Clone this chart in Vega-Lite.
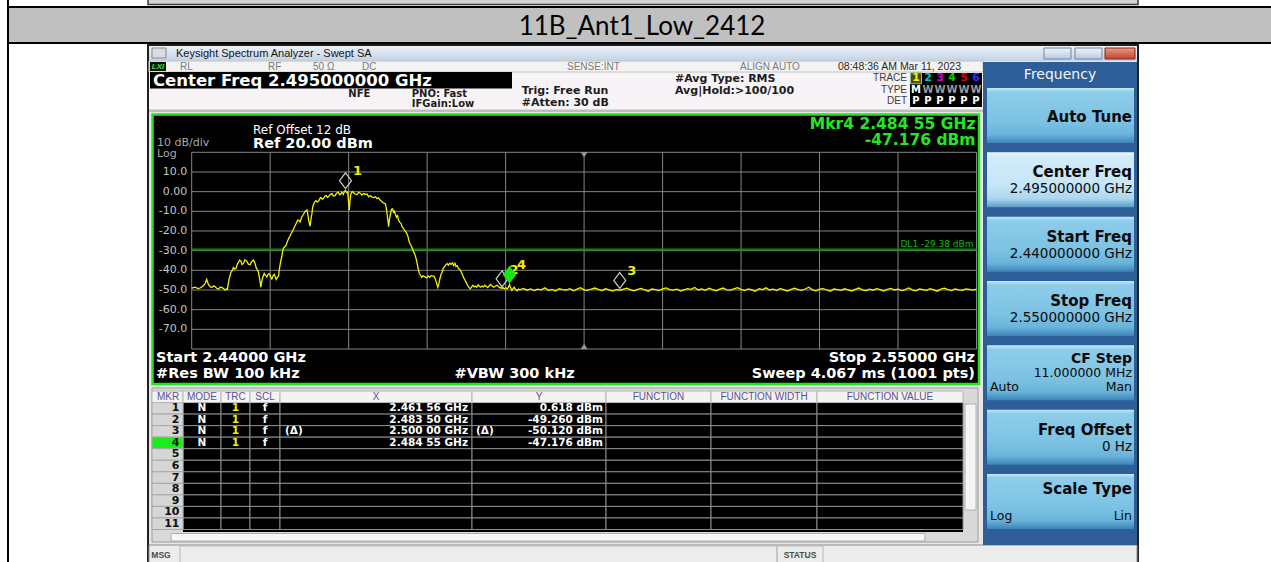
{
"$schema":"https://vega.github.io/schema/vega-lite/v6.json",
"width":1271,"height":562,"padding":0,"autosize":"none",
"background":"#ffffff",
"config":{"view":{"stroke":null},"axis":{"disable":true},"legend":{"disable":true}},
"datasets":{
"markers":[
{"mkr":"1","f":2.46156,"p":0.618,"mode":"N","trc":"1","scl":"f","x":"2.461 56 GHz","y":"0.618 dBm"},
{"mkr":"2","f":2.4835,"p":-49.26,"mode":"N","trc":"1","scl":"f","x":"2.483 50 GHz","y":"-49.260 dBm"},
{"mkr":"3","f":2.5,"p":-50.12,"mode":"N","trc":"1","scl":"f","xd":"(Δ)","x":"2.500 00 GHz","yd":"(Δ)","y":"-50.120 dBm"},
{"mkr":"4","f":2.48455,"p":-47.176,"mode":"N","trc":"1","scl":"f","x":"2.484 55 GHz","y":"-47.176 dBm"},
{"mkr":"5"},{"mkr":"6"},{"mkr":"7"},{"mkr":"8"},{"mkr":"9"},{"mkr":"10"},{"mkr":"11"}],
"columns":[
{"key":"mkr","label":"MKR","idx":0,"next":1},
{"key":"mode","label":"MODE","idx":1,"next":2},
{"key":"trc","label":"TRC","idx":2,"next":3},
{"key":"scl","label":"SCL","idx":3,"next":4},
{"key":"x","label":"X","idx":4,"next":5},
{"key":"y","label":"Y","idx":5,"next":6},
{"key":"fn","label":"FUNCTION","idx":6,"next":7},
{"key":"fw","label":"FUNCTION WIDTH","idx":7,"next":8},
{"key":"fv","label":"FUNCTION VALUE","idx":8,"next":9}],
"softkeys":[
{"key":"Auto Tune"},
{"key":"Center Freq","value":"2.495000000 GHz"},
{"key":"Start Freq","value":"2.440000000 GHz"},
{"key":"Stop Freq","value":"2.550000000 GHz"},
{"key":"CF Step","value":"11.000000 MHz","left":"Auto","right":"Man"},
{"key":"Freq Offset","value":"0 Hz"},
{"key":"Scale Type","left":"Log","right":"Lin"}],
"traces":[
{"trace":"1","type":"M","det":"P"},{"trace":"2","type":"W","det":"P"},{"trace":"3","type":"W","det":"P"},
{"trace":"4","type":"W","det":"P"},{"trace":"5","type":"W","det":"P"},{"trace":"6","type":"W","det":"P"}],
"trace":[
{"f":2.44,"p":-49.0},{"f":2.44047,"p":-48.6},{"f":2.4409,"p":-49.3},{"f":2.44117,"p":-49.0},{"f":2.4415,"p":-48.2},{"f":2.44187,"p":-46.8},{"f":2.4421,"p":-44.6},{"f":2.44234,"p":-47.2},{"f":2.4426,"p":-48.4},{"f":2.44281,"p":-48.6},{"f":2.4431,"p":-47.9},{"f":2.44328,"p":-48.3},{"f":2.4435,"p":-49.1},{"f":2.44374,"p":-49.6},{"f":2.444,"p":-48.6},{"f":2.4442,"p":-48.7},{"f":2.4445,"p":-49.4},{"f":2.44468,"p":-50.1},{"f":2.4449,"p":-49.4},{"f":2.445,"p":-49.6},
{"f":2.44524,"p":-44.5},{"f":2.44548,"p":-41.2},{"f":2.4457,"p":-40.0},{"f":2.44585,"p":-38.6},{"f":2.44605,"p":-39.4},{"f":2.44622,"p":-38.9},{"f":2.4464,"p":-36.8},{"f":2.44655,"p":-36.0},{"f":2.4467,"p":-34.8},{"f":2.44688,"p":-35.2},{"f":2.44705,"p":-37.0},{"f":2.44725,"p":-36.5},{"f":2.44745,"p":-34.6},{"f":2.44772,"p":-35.3},{"f":2.44795,"p":-36.9},{"f":2.44819,"p":-37.2},{"f":2.4484,"p":-35.6},{"f":2.44866,"p":-34.8},{"f":2.44885,"p":-36.2},{"f":2.44903,"p":-38.6},{"f":2.4492,"p":-39.8},{"f":2.44936,"p":-41.0},{"f":2.44955,"p":-45.0},{"f":2.44969,"p":-48.6},{"f":2.4498,"p":-46.0},{"f":2.44992,"p":-44.0},
{"f":2.45016,"p":-41.6},{"f":2.45035,"p":-42.6},{"f":2.45053,"p":-43.4},{"f":2.4507,"p":-42.0},{"f":2.4509,"p":-41.8},{"f":2.4511,"p":-43.5},{"f":2.45123,"p":-44.4},{"f":2.4514,"p":-42.8},{"f":2.45156,"p":-42.0},{"f":2.4517,"p":-43.2},{"f":2.45184,"p":-44.6},{"f":2.452,"p":-43.6},{"f":2.45217,"p":-43.0},{"f":2.45228,"p":-39.5},{"f":2.4524,"p":-37.0},{"f":2.45252,"p":-34.5},{"f":2.45264,"p":-33.0},{"f":2.45275,"p":-30.0},{"f":2.45287,"p":-28.7},{"f":2.45305,"p":-28.0},{"f":2.45324,"p":-27.2},{"f":2.4534,"p":-25.5},{"f":2.45357,"p":-24.0},{"f":2.45375,"p":-22.8},{"f":2.4539,"p":-21.5},{"f":2.45408,"p":-20.4},{"f":2.45427,"p":-19.0},{"f":2.45445,"p":-17.6},{"f":2.4546,"p":-16.5},{"f":2.45475,"p":-15.3},{"f":2.45488,"p":-14.4},{"f":2.45505,"p":-14.8},{"f":2.4552,"p":-15.4},{"f":2.4554,"p":-13.0},{"f":2.45558,"p":-12.0},{"f":2.45575,"p":-11.0},{"f":2.4559,"p":-10.0},{"f":2.45605,"p":-9.6},{"f":2.45615,"p":-9.3},{"f":2.45628,"p":-11.5},{"f":2.45638,"p":-14.2},{"f":2.4565,"p":-16.2},{"f":2.4566,"p":-17.6},{"f":2.45672,"p":-14.0},{"f":2.45685,"p":-11.2},{"f":2.45695,"p":-8.0},{"f":2.45708,"p":-6.4},{"f":2.4572,"p":-5.6},{"f":2.4574,"p":-4.6},{"f":2.4576,"p":-5.2},{"f":2.4578,"p":-4.8},{"f":2.45795,"p":-3.6},{"f":2.4581,"p":-3.0},{"f":2.4583,"p":-3.8},{"f":2.4585,"p":-3.4},{"f":2.45868,"p":-2.2},{"f":2.45886,"p":-2.0},{"f":2.45905,"p":-3.0},{"f":2.4592,"p":-2.4},{"f":2.45945,"p":-1.4},{"f":2.45966,"p":-1.0},{"f":2.45985,"p":-2.2},{"f":2.4601,"p":-2.0},{"f":2.4603,"p":-0.8},{"f":2.46055,"p":-0.4},{"f":2.46075,"p":-1.6},{"f":2.4609,"p":-1.2},{"f":2.46106,"p":-0.3},{"f":2.46125,"p":-1.4},{"f":2.4614,"p":0.0},{"f":2.46156,"p":0.6},{"f":2.46172,"p":-0.5},{"f":2.46186,"p":-0.2},{"f":2.46197,"p":-4.5},{"f":2.46209,"p":-9.5},{"f":2.4622,"p":-4.0},{"f":2.46232,"p":-1.0},{"f":2.4625,"p":0.1},{"f":2.4627,"p":-0.6},{"f":2.46292,"p":-1.2},{"f":2.46317,"p":-1.6},{"f":2.4634,"p":-0.4},{"f":2.46363,"p":-0.8},{"f":2.46385,"p":-1.8},{"f":2.4641,"p":-1.0},{"f":2.46435,"p":-1.4},{"f":2.46457,"p":-1.2},{"f":2.4648,"p":-2.6},{"f":2.46504,"p":-2.0},{"f":2.46525,"p":-2.8},{"f":2.4655,"p":-3.0},{"f":2.46575,"p":-2.6},{"f":2.46598,"p":-3.6},{"f":2.4662,"p":-3.2},{"f":2.46644,"p":-4.4},{"f":2.46665,"p":-5.0},{"f":2.4668,"p":-5.5},{"f":2.467,"p":-6.0},{"f":2.46715,"p":-6.2},{"f":2.4673,"p":-9.0},{"f":2.46745,"p":-13.0},{"f":2.4676,"p":-17.8},{"f":2.46772,"p":-14.0},{"f":2.46785,"p":-11.5},{"f":2.468,"p":-9.0},{"f":2.46815,"p":-8.8},{"f":2.4683,"p":-10.5},{"f":2.46842,"p":-10.0},{"f":2.46856,"p":-11.6},{"f":2.4687,"p":-13.0},{"f":2.46885,"p":-12.2},{"f":2.469,"p":-14.6},{"f":2.46915,"p":-15.5},{"f":2.46935,"p":-16.2},{"f":2.4695,"p":-18.0},{"f":2.4697,"p":-18.8},{"f":2.4699,"p":-20.0},{"f":2.4701,"p":-21.0},{"f":2.4703,"p":-22.6},{"f":2.47045,"p":-25.0},{"f":2.4706,"p":-26.5},{"f":2.47075,"p":-27.4},{"f":2.47095,"p":-29.2},{"f":2.4711,"p":-30.5},{"f":2.47128,"p":-32.0},{"f":2.47145,"p":-34.0},{"f":2.4716,"p":-36.5},{"f":2.47173,"p":-39.0},{"f":2.4719,"p":-41.5},{"f":2.47206,"p":-42.5},{"f":2.47225,"p":-43.6},{"f":2.47243,"p":-42.8},{"f":2.47265,"p":-43.2},{"f":2.4729,"p":-43.9},{"f":2.47315,"p":-42.9},{"f":2.47337,"p":-43.6},{"f":2.4736,"p":-42.6},{"f":2.47384,"p":-43.0},{"f":2.474,"p":-43.2},{"f":2.47416,"p":-44.6},{"f":2.47432,"p":-46.5},{"f":2.4745,"p":-48.6},{"f":2.47465,"p":-46.8},{"f":2.47478,"p":-44.4},{"f":2.47495,"p":-42.0},{"f":2.4751,"p":-41.0},{"f":2.47526,"p":-39.0},{"f":2.47543,"p":-38.2},{"f":2.4756,"p":-37.2},{"f":2.4758,"p":-36.6},{"f":2.47598,"p":-37.4},{"f":2.47617,"p":-36.4},{"f":2.47635,"p":-37.0},{"f":2.47655,"p":-36.2},{"f":2.47672,"p":-37.6},{"f":2.4769,"p":-36.4},{"f":2.47705,"p":-38.0},{"f":2.47722,"p":-37.6},{"f":2.4774,"p":-39.2},{"f":2.4776,"p":-39.6},{"f":2.4778,"p":-41.0},{"f":2.47795,"p":-42.2},{"f":2.47815,"p":-44.0},{"f":2.47837,"p":-45.4},{"f":2.47855,"p":-46.8},{"f":2.4787,"p":-47.8},{"f":2.47888,"p":-48.8},{"f":2.47905,"p":-49.4},{"f":2.47922,"p":-48.6},{"f":2.4794,"p":-47.6},{"f":2.47958,"p":-48.4},{"f":2.47975,"p":-48.0},{"f":2.47995,"p":-48.6},{"f":2.48015,"p":-47.4},{"f":2.48035,"p":-48.2},{"f":2.4805,"p":-48.6},{"f":2.4807,"p":-48.0},{"f":2.4809,"p":-48.4},{"f":2.4811,"p":-47.6},{"f":2.4813,"p":-48.2},{"f":2.4815,"p":-48.8},{"f":2.4817,"p":-47.8},{"f":2.4819,"p":-47.2},{"f":2.4821,"p":-48.0},{"f":2.48235,"p":-48.6},{"f":2.48255,"p":-48.1},{"f":2.48275,"p":-47.6},{"f":2.483,"p":-48.2},{"f":2.4832,"p":-48.9},{"f":2.48335,"p":-48.6},{"f":2.4835,"p":-49.26},{"f":2.48365,"p":-48.8},{"f":2.48385,"p":-49.4},{"f":2.48405,"p":-48.9},{"f":2.4842,"p":-49.5},{"f":2.4844,"p":-48.6},{"f":2.48455,"p":-47.18},{"f":2.4847,"p":-48.9},{"f":2.48488,"p":-50.2},{"f":2.48505,"p":-49.3},{"f":2.4852,"p":-48.6},{"f":2.4854,"p":-49.8},{"f":2.4856,"p":-50.4},{"f":2.4858,"p":-49.5},{"f":2.486,"p":-49.9},
{"f":2.4865,"p":-49.2},{"f":2.487,"p":-50.1},{"f":2.4875,"p":-49.5},{"f":2.488,"p":-50.3},{"f":2.4885,"p":-49.6},{"f":2.489,"p":-49.9},{"f":2.4895,"p":-48.9},{"f":2.49,"p":-50.2},{"f":2.4905,"p":-49.7},{"f":2.491,"p":-50.5},{"f":2.4915,"p":-49.4},{"f":2.492,"p":-49.8},{"f":2.4925,"p":-50.0},{"f":2.493,"p":-49.3},{"f":2.4935,"p":-50.4},{"f":2.494,"p":-49.6},{"f":2.4945,"p":-48.8},{"f":2.495,"p":-49.9},{"f":2.4955,"p":-50.2},{"f":2.496,"p":-49.5},{"f":2.4965,"p":-49.0},{"f":2.497,"p":-49.7},{"f":2.4975,"p":-50.3},{"f":2.498,"p":-49.4},{"f":2.4985,"p":-49.9},{"f":2.499,"p":-50.6},{"f":2.4995,"p":-49.8},{"f":2.5,"p":-50.12},{"f":2.5005,"p":-49.6},{"f":2.501,"p":-49.1},{"f":2.5015,"p":-49.9},{"f":2.502,"p":-50.4},{"f":2.5025,"p":-49.7},{"f":2.503,"p":-49.2},{"f":2.5035,"p":-50.0},{"f":2.504,"p":-50.6},{"f":2.5045,"p":-49.5},{"f":2.505,"p":-49.8},{"f":2.5055,"p":-50.3},{"f":2.506,"p":-49.4},{"f":2.5065,"p":-48.9},{"f":2.507,"p":-49.8},{"f":2.5075,"p":-50.1},{"f":2.508,"p":-49.6},{"f":2.5085,"p":-50.5},{"f":2.509,"p":-49.9},{"f":2.5095,"p":-49.3},{"f":2.51,"p":-49.7},{"f":2.5105,"p":-48.7},{"f":2.511,"p":-50.0},{"f":2.5115,"p":-49.5},{"f":2.512,"p":-50.2},{"f":2.5125,"p":-49.1},{"f":2.513,"p":-49.8},{"f":2.5135,"p":-50.4},{"f":2.514,"p":-49.6},{"f":2.5145,"p":-49.0},{"f":2.515,"p":-49.9},{"f":2.5155,"p":-50.1},{"f":2.516,"p":-49.4},{"f":2.5165,"p":-48.8},{"f":2.517,"p":-49.7},{"f":2.5175,"p":-50.3},{"f":2.518,"p":-49.5},{"f":2.5185,"p":-49.9},{"f":2.519,"p":-50.6},{"f":2.5195,"p":-49.4},{"f":2.52,"p":-49.8},{"f":2.5205,"p":-48.9},{"f":2.521,"p":-50.0},{"f":2.5215,"p":-49.6},{"f":2.522,"p":-50.3},{"f":2.5225,"p":-49.2},{"f":2.523,"p":-49.9},{"f":2.5235,"p":-50.5},{"f":2.524,"p":-49.7},{"f":2.5245,"p":-49.1},{"f":2.525,"p":-49.8},{"f":2.5255,"p":-50.2},{"f":2.526,"p":-49.5},{"f":2.5265,"p":-48.6},{"f":2.527,"p":-49.9},{"f":2.5275,"p":-50.4},{"f":2.528,"p":-49.6},{"f":2.5285,"p":-49.3},{"f":2.529,"p":-50.0},{"f":2.5295,"p":-50.6},{"f":2.53,"p":-49.5},{"f":2.5305,"p":-49.8},{"f":2.531,"p":-50.2},{"f":2.5315,"p":-49.4},{"f":2.532,"p":-49.9},{"f":2.5325,"p":-50.5},{"f":2.533,"p":-49.7},{"f":2.5335,"p":-49.0},{"f":2.534,"p":-49.9},{"f":2.5345,"p":-50.3},{"f":2.535,"p":-49.6},{"f":2.5355,"p":-50.1},{"f":2.536,"p":-49.3},{"f":2.5365,"p":-49.8},{"f":2.537,"p":-50.5},{"f":2.5375,"p":-49.7},{"f":2.538,"p":-49.2},{"f":2.5385,"p":-50.0},{"f":2.539,"p":-49.6},{"f":2.5395,"p":-50.3},{"f":2.54,"p":-49.8},{"f":2.5405,"p":-49.0},{"f":2.541,"p":-49.9},{"f":2.5415,"p":-50.4},{"f":2.542,"p":-49.5},{"f":2.5425,"p":-49.8},{"f":2.543,"p":-50.2},{"f":2.5435,"p":-49.3},{"f":2.544,"p":-49.9},{"f":2.5445,"p":-50.6},{"f":2.545,"p":-49.6},{"f":2.5455,"p":-49.1},{"f":2.546,"p":-49.8},{"f":2.5465,"p":-50.3},{"f":2.547,"p":-49.5},{"f":2.5475,"p":-49.9},{"f":2.548,"p":-50.2},{"f":2.5485,"p":-49.4},{"f":2.549,"p":-49.7},{"f":2.5495,"p":-50.1},{"f":2.55,"p":-49.6}]
},
"resolve":{"scale":{"x":"independent","y":"independent","color":"independent"}},
"layer":[
{"data":{"values":[{"part":"document table"}]},"mark":{"type":"rect","fillOpacity":0,"stroke":"#000000","strokeWidth":2},"encoding":{"x":{"field":"part","type":"nominal","scale":{"type":"band","range":[8,1300],"padding":0}},"y":{"field":"part","type":"nominal","scale":{"type":"band","range":[-10,600],"padding":0}}}},
{"data":{"values":[{"part":"previous capture"}]},"mark":{"type":"rect","fill":"#d4d4d4","stroke":"#3c3c3c","strokeWidth":1.5},"encoding":{"x":{"field":"part","type":"nominal","scale":{"type":"band","range":[148,1138],"padding":0}},"y":{"field":"part","type":"nominal","scale":{"type":"band","range":[-20,4.5],"padding":0}}}},
{"data":{"values":[{"caption":"11B_Ant1_Low_2412"}]},
 "encoding":{"x":{"field":"caption","type":"nominal","scale":{"type":"band","range":[8,1276],"padding":0}},"y":{"field":"caption","type":"nominal","scale":{"type":"band","range":[7,43],"padding":0}}},
 "layer":[
  {"mark":{"type":"rect","fill":"#c0c0c0","stroke":"#000000","strokeWidth":2}},
  {"mark":{"type":"text","font":"Lato","fontSize":26,"color":"#000000","baseline":"alphabetic","dy":10},"encoding":{"text":{"field":"caption"}}}
 ]},
{"data":{"values":[{"part":"window"}]},"mark":{"type":"rect","fill":"#e6e6e6","stroke":"#202020","strokeWidth":2},"encoding":{"x":{"field":"part","type":"nominal","scale":{"type":"band","range":[148,1138],"padding":0}},"y":{"field":"part","type":"nominal","scale":{"type":"band","range":[45,600],"padding":0}}}},
{"data":{"values":[{"part":"title bar"}]},"mark":{"type":"rect","fill":{"gradient":"linear","x1":0,"y1":0,"x2":0,"y2":1,"stops":[{"offset":0,"color":"#ecf1f9"},{"offset":1,"color":"#c3d2e6"}]}},"encoding":{"x":{"field":"part","type":"nominal","scale":{"type":"band","range":[149,1137],"padding":0}},"y":{"field":"part","type":"nominal","scale":{"type":"band","range":[46,61],"padding":0}}}},
{"data":{"values":[{"part":"icon"}]},"mark":{"type":"rect","fill":"#d9dde3","stroke":"#8a8a8a","strokeWidth":1},"encoding":{"x":{"field":"part","type":"nominal","scale":{"type":"band","range":[152,166],"padding":0}},"y":{"field":"part","type":"nominal","scale":{"type":"band","range":[48,58],"padding":0}}}},
{"data":{"values":[{"part":"minimize"}]},"mark":{"type":"rect","fill":{"gradient":"linear","x1":0,"y1":0,"x2":0,"y2":1,"stops":[{"offset":0,"color":"#eef3fa"},{"offset":1,"color":"#b8cae2"}]},"stroke":"#6f84a6","strokeWidth":1},"encoding":{"x":{"field":"part","type":"nominal","scale":{"type":"band","range":[1044,1071],"padding":0}},"y":{"field":"part","type":"nominal","scale":{"type":"band","range":[48,59],"padding":0}}}},
{"data":{"values":[{"part":"restore"}]},"mark":{"type":"rect","fill":{"gradient":"linear","x1":0,"y1":0,"x2":0,"y2":1,"stops":[{"offset":0,"color":"#eef3fa"},{"offset":1,"color":"#b8cae2"}]},"stroke":"#6f84a6","strokeWidth":1},"encoding":{"x":{"field":"part","type":"nominal","scale":{"type":"band","range":[1075,1102],"padding":0}},"y":{"field":"part","type":"nominal","scale":{"type":"band","range":[48,59],"padding":0}}}},
{"data":{"values":[{"part":"close"}]},"mark":{"type":"rect","fill":{"gradient":"linear","x1":0,"y1":0,"x2":0,"y2":1,"stops":[{"offset":0,"color":"#eb9a86"},{"offset":1,"color":"#c0432a"}]},"stroke":"#7a2a1a","strokeWidth":1},"encoding":{"x":{"field":"part","type":"nominal","scale":{"type":"band","range":[1105,1135],"padding":0}},"y":{"field":"part","type":"nominal","scale":{"type":"band","range":[48,59],"padding":0}}}},
{"data":{"values":[{"part":"settings"}]},"mark":{"type":"rect","fill":"#f7f3f7"},"encoding":{"x":{"field":"part","type":"nominal","scale":{"type":"band","range":[149,983],"padding":0}},"y":{"field":"part","type":"nominal","scale":{"type":"band","range":[61,111],"padding":0}}}},
{"data":{"values":[{"part":"status row"}]},"mark":{"type":"rect","fill":"#f3f3f3","stroke":"#c4c4c4","strokeWidth":1},"encoding":{"x":{"field":"part","type":"nominal","scale":{"type":"band","range":[149,983],"padding":0}},"y":{"field":"part","type":"nominal","scale":{"type":"band","range":[61,72],"padding":0}}}},
{"data":{"values":[{"part":"lxi"}]},"mark":{"type":"rect","fill":"#111111"},"encoding":{"x":{"field":"part","type":"nominal","scale":{"type":"band","range":[150,166],"padding":0}},"y":{"field":"part","type":"nominal","scale":{"type":"band","range":[62,71],"padding":0}}}},
{"data":{"values":[{"part":"center freq band"}]},"mark":{"type":"rect","fill":"#000000"},"encoding":{"x":{"field":"part","type":"nominal","scale":{"type":"band","range":[150,512],"padding":0}},"y":{"field":"part","type":"nominal","scale":{"type":"band","range":[72,88.5],"padding":0}}}},
{"data":{"values":[{"part":"separator"}]},"mark":{"type":"rect","fill":"#bdbdbd"},"encoding":{"x":{"field":"part","type":"nominal","scale":{"type":"band","range":[149,983],"padding":0}},"y":{"field":"part","type":"nominal","scale":{"type":"band","range":[109.5,112],"padding":0}}}},
{"data":{"values":[{"part":"trace box"}]},"mark":{"type":"rect","fill":"#000000"},"encoding":{"x":{"field":"part","type":"nominal","scale":{"type":"band","range":[910,982],"padding":0}},"y":{"field":"part","type":"nominal","scale":{"type":"band","range":[73,107],"padding":0}}}},
{"data":{"values":[{"part":"plot frame"}]},"mark":{"type":"rect","fill":"#000000","stroke":"#1ee61e","strokeWidth":2.5},"encoding":{"x":{"field":"part","type":"nominal","scale":{"type":"band","range":[152.5,979],"padding":0}},"y":{"field":"part","type":"nominal","scale":{"type":"band","range":[114.5,384],"padding":0}}}},
{"data":{"values":[{"part":"marker table"}]},"mark":{"type":"rect","fill":"#d9d9d9","stroke":"#9c9c9c","strokeWidth":1},"encoding":{"x":{"field":"part","type":"nominal","scale":{"type":"band","range":[152,978],"padding":0}},"y":{"field":"part","type":"nominal","scale":{"type":"band","range":[388,542],"padding":0}}}},
{"data":{"values":[{"part":"row 12"}]},"mark":{"type":"rect","fill":"#000000"},"encoding":{"x":{"field":"part","type":"nominal","scale":{"type":"band","range":[183,963],"padding":0}},"y":{"field":"part","type":"nominal","scale":{"type":"band","range":[529.5,532],"padding":0}}}},
{"data":{"values":[{"part":"h scroll"}]},"mark":{"type":"rect","fill":"#f7f7f7","stroke":"#aeaeae","strokeWidth":1},"encoding":{"x":{"field":"part","type":"nominal","scale":{"type":"band","range":[171,925],"padding":0}},"y":{"field":"part","type":"nominal","scale":{"type":"band","range":[533.5,541],"padding":0}}}},
{"data":{"values":[{"part":"v scroll"}]},"mark":{"type":"rect","fill":"#f5f5f5","stroke":"#b0b0b0","strokeWidth":1},"encoding":{"x":{"field":"part","type":"nominal","scale":{"type":"band","range":[965,976],"padding":0}},"y":{"field":"part","type":"nominal","scale":{"type":"band","range":[404,510],"padding":0}}}},
{"data":{"values":[{"part":"msg bar"}]},"mark":{"type":"rect","fill":"#ececec","stroke":"#8c8c8c","strokeWidth":1},"encoding":{"x":{"field":"part","type":"nominal","scale":{"type":"band","range":[149,1137],"padding":0}},"y":{"field":"part","type":"nominal","scale":{"type":"band","range":[545,563],"padding":0}}}},
{"data":{"values":[{"part":"msg cell"}]},"mark":{"type":"rect","fillOpacity":0,"stroke":"#b8b8b8","strokeWidth":1},"encoding":{"x":{"field":"part","type":"nominal","scale":{"type":"band","range":[180,777],"padding":0}},"y":{"field":"part","type":"nominal","scale":{"type":"band","range":[546,563],"padding":0}}}},
{"data":{"values":[{"part":"status cell"}]},"mark":{"type":"rect","fillOpacity":0,"stroke":"#b8b8b8","strokeWidth":1},"encoding":{"x":{"field":"part","type":"nominal","scale":{"type":"band","range":[777,823],"padding":0}},"y":{"field":"part","type":"nominal","scale":{"type":"band","range":[546,563],"padding":0}}}},
{"data":{"values":[{"part":"softkey panel"}]},"mark":{"type":"rect","fill":"#2e5e97"},"encoding":{"x":{"field":"part","type":"nominal","scale":{"type":"band","range":[983,1137],"padding":0}},"y":{"field":"part","type":"nominal","scale":{"type":"band","range":[62,545],"padding":0}}}},

{"data":{"values":[{"label":"Keysight Spectrum Analyzer - Swept SA"}]},"mark":{"type":"text","align":"left","baseline":"middle","font":"Liberation Sans","fontSize":11,"color":"#151515"},"encoding":{"text":{"field":"label"},"x":{"field":"label","type":"nominal","scale":{"type":"point","range":[176,176],"padding":0}},"y":{"field":"label","type":"nominal","scale":{"type":"point","range":[53.5,53.5],"padding":0}}}},
{"data":{"values":[{"order":0,"label":"RL"},{"order":1,"label":"RF"},{"order":2,"label":"50 Ω"},{"order":3,"label":"DC"},{"order":4,"label":"SENSE:INT"},{"order":5,"label":"ALIGN AUTO"}]},"mark":{"type":"text","align":"left","baseline":"middle","font":"Liberation Sans","fontSize":10,"color":"#7a7a7a"},"encoding":{"text":{"field":"label"},"x":{"field":"order","type":"quantitative","scale":{"domain":[0,1,2,3,4,5],"range":[180,268,313,362,567,740],"zero":false,"nice":false}},"y":{"field":"order","type":"quantitative","scale":{"domain":[0,5],"range":[66.5,66.5],"zero":false,"nice":false}}}},
{"data":{"values":[{"label":"08:48:36 AM Mar 11, 2023"}]},"mark":{"type":"text","align":"left","baseline":"middle","font":"Liberation Sans","fontSize":10.5,"color":"#262626"},"encoding":{"text":{"field":"label"},"x":{"field":"label","type":"nominal","scale":{"type":"point","range":[838,838],"padding":0}},"y":{"field":"label","type":"nominal","scale":{"type":"point","range":[66.5,66.5],"padding":0}}}},
{"data":{"values":[{"label":"LXI"}]},"mark":{"type":"text","align":"center","baseline":"middle","font":"Liberation Sans","fontWeight":"bold","fontStyle":"italic","fontSize":8,"color":"#2ef02e"},"encoding":{"text":{"field":"label"},"x":{"field":"label","type":"nominal","scale":{"type":"point","range":[158,158],"padding":0}},"y":{"field":"label","type":"nominal","scale":{"type":"point","range":[66.5,66.5],"padding":0}}}},
{"data":{"values":[{"label":"Center Freq 2.495000000 GHz"}]},"mark":{"type":"text","align":"left","baseline":"middle","font":"DejaVu Sans","fontWeight":"bold","fontSize":16.5,"color":"#ffffff"},"encoding":{"text":{"field":"label"},"x":{"field":"label","type":"nominal","scale":{"type":"point","range":[153,153],"padding":0}},"y":{"field":"label","type":"nominal","scale":{"type":"point","range":[81,81],"padding":0}}}},
{"data":{"values":[{"order":0,"label":"NFE"},{"order":1,"label":"PNO: Fast"},{"order":2,"label":"IFGain:Low"}]},"mark":{"type":"text","align":"left","baseline":"middle","font":"DejaVu Sans","fontWeight":"bold","fontSize":10,"color":"#1c1c1c"},"encoding":{"text":{"field":"label"},"x":{"field":"order","type":"quantitative","scale":{"domain":[0,1,2],"range":[348.3,411.7,411.7],"zero":false,"nice":false}},"y":{"field":"order","type":"quantitative","scale":{"domain":[0,1,2],"range":[93.5,93.5,104.3],"zero":false,"nice":false}}}},
{"data":{"values":[{"order":0,"label":"Trig: Free Run"},{"order":1,"label":"#Atten: 30 dB"},{"order":2,"label":"#Avg Type: RMS"},{"order":3,"label":"Avg|Hold:>100/100"}]},"mark":{"type":"text","align":"left","baseline":"middle","font":"DejaVu Sans","fontWeight":"bold","fontSize":11,"color":"#1c1c1c"},"encoding":{"text":{"field":"label"},"x":{"field":"order","type":"quantitative","scale":{"domain":[0,1,2,3],"range":[521.7,521.7,675,675],"zero":false,"nice":false}},"y":{"field":"order","type":"quantitative","scale":{"domain":[0,1,2,3],"range":[91,103,78.5,90.5],"zero":false,"nice":false}}}},

{"data":{"values":[{"row":"TRACE"},{"row":"TYPE"},{"row":"DET"}]},"mark":{"type":"text","align":"right","baseline":"middle","dx":3,"font":"Liberation Sans","fontSize":10,"color":"#3c3c3c"},"encoding":{"text":{"field":"row"},"x":{"datum":"hdr","type":"nominal","scale":{"type":"point","domain":["hdr","1","2","3","4","5","6"],"range":[904,976],"padding":0}},"y":{"field":"row","type":"nominal","scale":{"type":"point","domain":["TRACE","TYPE","DET"],"range":[78.3,100.7],"padding":0}}}},
{"data":{"name":"traces"},"transform":[{"filter":"datum.trace === '1'"}],"mark":{"type":"point","shape":"square","size":120,"filled":true,"opacity":1,"fill":"#4a4a18","stroke":"#8fbf8f","strokeWidth":1},"encoding":{"x":{"field":"trace","type":"nominal","scale":{"type":"point","domain":["hdr","1","2","3","4","5","6"],"range":[904,976],"padding":0}},"y":{"datum":"TRACE","type":"nominal","scale":{"type":"point","domain":["TRACE","TYPE","DET"],"range":[78.3,100.7],"padding":0}}}},
{"data":{"name":"traces"},"mark":{"type":"text","align":"center","baseline":"middle","font":"DejaVu Sans","fontWeight":"bold","fontSize":11},"encoding":{"text":{"field":"trace"},"color":{"field":"trace","type":"nominal","scale":{"domain":["1","2","3","4","5","6"],"range":["#f0f000","#00c8c8","#d000d0","#00d000","#e00000","#3030ff"]},"legend":null},"x":{"field":"trace","type":"nominal","scale":{"type":"point","domain":["hdr","1","2","3","4","5","6"],"range":[904,976],"padding":0}},"y":{"datum":"TRACE","type":"nominal","scale":{"type":"point","domain":["TRACE","TYPE","DET"],"range":[78.3,100.7],"padding":0}}}},
{"data":{"name":"traces"},"mark":{"type":"text","align":"center","baseline":"middle","font":"DejaVu Sans","fontWeight":"bold","fontSize":10},"encoding":{"text":{"field":"type"},"color":{"condition":{"test":"datum.type === 'W'","value":"#9a9a9a"},"value":"#ffffff"},"x":{"field":"trace","type":"nominal","scale":{"type":"point","domain":["hdr","1","2","3","4","5","6"],"range":[904,976],"padding":0}},"y":{"datum":"TYPE","type":"nominal","scale":{"type":"point","domain":["TRACE","TYPE","DET"],"range":[78.3,100.7],"padding":0}}}},
{"data":{"name":"traces"},"mark":{"type":"text","align":"center","baseline":"middle","font":"DejaVu Sans","fontWeight":"bold","fontSize":10,"color":"#ffffff"},"encoding":{"text":{"field":"det"},"x":{"field":"trace","type":"nominal","scale":{"type":"point","domain":["hdr","1","2","3","4","5","6"],"range":[904,976],"padding":0}},"y":{"datum":"DET","type":"nominal","scale":{"type":"point","domain":["TRACE","TYPE","DET"],"range":[78.3,100.7],"padding":0}}}},

{"layer":[
 {"data":{"values":[{"f":2.44},{"f":2.451},{"f":2.462},{"f":2.473},{"f":2.484},{"f":2.495},{"f":2.506},{"f":2.517},{"f":2.528},{"f":2.539},{"f":2.55}]},"mark":{"type":"rule","stroke":"#858585","strokeWidth":1},"encoding":{"x":{"field":"f","type":"quantitative","scale":{"domain":[2.44,2.55],"range":[191.7,976.5],"zero":false,"nice":false}},"y":{"datum":20,"type":"quantitative","scale":{"domain":[-80,20],"range":[349,152.3],"zero":false,"nice":false}},"y2":{"datum":-80}}},
 {"data":{"values":[{"level":20},{"level":10,"label":"10.0"},{"level":0,"label":"0.00"},{"level":-10,"label":"-10.0"},{"level":-20,"label":"-20.0"},{"level":-30,"label":"-30.0"},{"level":-40,"label":"-40.0"},{"level":-50,"label":"-50.0"},{"level":-60,"label":"-60.0"},{"level":-70,"label":"-70.0"},{"level":-80}]},
  "layer":[
   {"mark":{"type":"rule","stroke":"#858585","strokeWidth":1},"encoding":{"y":{"field":"level","type":"quantitative","scale":{"domain":[-80,20],"range":[349,152.3],"zero":false,"nice":false}},"x":{"datum":2.44,"type":"quantitative","scale":{"domain":[2.44,2.55],"range":[191.7,976.5],"zero":false,"nice":false}},"x2":{"datum":2.55}}},
   {"transform":[{"filter":"isValid(datum.label)"}],"mark":{"type":"text","align":"right","baseline":"middle","dx":-4.5,"font":"DejaVu Sans","fontSize":11,"color":"#c4c4c4"},"encoding":{"text":{"field":"label"},"y":{"field":"level","type":"quantitative","scale":{"domain":[-80,20],"range":[349,152.3],"zero":false,"nice":false}},"x":{"datum":2.44,"type":"quantitative","scale":{"domain":[2.44,2.55],"range":[191.7,976.5],"zero":false,"nice":false}}}}
  ]},
 {"data":{"values":[{"line":"DL1","level":-29.38,"label":"DL1 -29.38 dBm"}]},
  "layer":[
   {"mark":{"type":"rule","stroke":"#0a8a0a","strokeWidth":2},"encoding":{"y":{"field":"level","type":"quantitative","scale":{"domain":[-80,20],"range":[349,152.3],"zero":false,"nice":false}},"x":{"datum":2.44,"type":"quantitative","scale":{"domain":[2.44,2.55],"range":[191.7,976.5],"zero":false,"nice":false}},"x2":{"datum":2.55}}},
   {"mark":{"type":"text","align":"right","baseline":"middle","dx":-3,"dy":-5,"font":"DejaVu Sans","fontSize":9,"color":"#12b812"},"encoding":{"text":{"field":"label"},"y":{"field":"level","type":"quantitative","scale":{"domain":[-80,20],"range":[349,152.3],"zero":false,"nice":false}},"x":{"datum":2.55,"type":"quantitative","scale":{"domain":[2.44,2.55],"range":[191.7,976.5],"zero":false,"nice":false}}}}
  ]},
 {"data":{"name":"trace"},"mark":{"type":"line","stroke":"#f2f200","strokeWidth":1.3,"interpolate":"linear"},"encoding":{"x":{"field":"f","type":"quantitative","scale":{"domain":[2.44,2.55],"range":[191.7,976.5],"zero":false,"nice":false}},"y":{"field":"p","type":"quantitative","scale":{"domain":[-80,20],"range":[349,152.3],"zero":false,"nice":false}}}},
 {"data":{"values":[{"center":2.495}]},
  "layer":[
   {"mark":{"type":"point","shape":"M-1,0L1,0L0,1.4Z","size":49,"filled":true,"opacity":1,"color":"#9a9a9a"},"encoding":{"x":{"field":"center","type":"quantitative","scale":{"domain":[2.44,2.55],"range":[191.7,976.5],"zero":false,"nice":false}},"y":{"datum":20,"type":"quantitative","scale":{"domain":[-80,20],"range":[349,152.3],"zero":false,"nice":false}}}},
   {"mark":{"type":"point","shape":"M-1,0L1,0L0,-1.4Z","size":49,"filled":true,"opacity":1,"color":"#9a9a9a"},"encoding":{"x":{"field":"center","type":"quantitative","scale":{"domain":[2.44,2.55],"range":[191.7,976.5],"zero":false,"nice":false}},"y":{"datum":-80,"type":"quantitative","scale":{"domain":[-80,20],"range":[349,152.3],"zero":false,"nice":false}}}}
  ]},
 {"data":{"name":"markers"},"transform":[{"filter":"isValid(datum.f)"}],
  "layer":[
   {"mark":{"type":"text","align":"center","baseline":"middle","dx":12,"dy":-19,"font":"DejaVu Sans","fontWeight":"bold","fontSize":13,"color":"#f0f000"},"encoding":{"text":{"field":"mkr"},"x":{"field":"f","type":"quantitative","scale":{"domain":[2.44,2.55],"range":[191.7,976.5],"zero":false,"nice":false}},"y":{"field":"p","type":"quantitative","scale":{"domain":[-80,20],"range":[349,152.3],"zero":false,"nice":false}}}},
   {"mark":{"type":"point","shape":"M0,-2.35L0.8,-1.3L0,-0.25L-0.8,-1.3Z","size":225,"opacity":1,"strokeWidth":1.2},"encoding":{"fill":{"condition":{"test":"datum.mkr === '4'","value":"#19e619"},"value":"transparent"},"stroke":{"condition":{"test":"datum.mkr === '4'","value":"#19e619"},"value":"#d0d0d0"},"x":{"field":"f","type":"quantitative","scale":{"domain":[2.44,2.55],"range":[191.7,976.5],"zero":false,"nice":false}},"y":{"field":"p","type":"quantitative","scale":{"domain":[-80,20],"range":[349,152.3],"zero":false,"nice":false}}}}
  ]}
]},

{"data":{"values":[{"order":0,"label":"10 dB/div"},{"order":1,"label":"Log"}]},"mark":{"type":"text","align":"left","baseline":"middle","font":"DejaVu Sans","fontSize":11,"color":"#a8a8a8"},"encoding":{"text":{"field":"label"},"x":{"field":"order","type":"quantitative","scale":{"domain":[0,1],"range":[157,157],"zero":false,"nice":false}},"y":{"field":"order","type":"quantitative","scale":{"domain":[0,1],"range":[142.5,154],"zero":false,"nice":false}}}},
{"data":{"values":[{"label":"Ref Offset 12 dB"}]},"mark":{"type":"text","align":"left","baseline":"middle","font":"DejaVu Sans","fontSize":12,"color":"#ffffff"},"encoding":{"text":{"field":"label"},"x":{"field":"label","type":"nominal","scale":{"type":"point","range":[253,253],"padding":0}},"y":{"field":"label","type":"nominal","scale":{"type":"point","range":[129.5,129.5],"padding":0}}}},
{"data":{"values":[{"order":0,"label":"Ref 20.00 dBm"},{"order":1,"label":"Start 2.44000 GHz"},{"order":2,"label":"#Res BW 100 kHz"},{"order":3,"label":"#VBW 300 kHz"}]},"mark":{"type":"text","align":"left","baseline":"middle","font":"DejaVu Sans","fontWeight":"bold","fontSize":14.5,"color":"#ffffff"},"encoding":{"text":{"field":"label"},"x":{"field":"order","type":"quantitative","scale":{"domain":[0,1,2,3],"range":[253,156,156,454.5],"zero":false,"nice":false}},"y":{"field":"order","type":"quantitative","scale":{"domain":[0,1,2,3],"range":[144,358,373.5,373.5],"zero":false,"nice":false}}}},
{"data":{"values":[{"order":0,"label":"Stop 2.55000 GHz"},{"order":1,"label":"Sweep  4.067 ms (1001 pts)"}]},"mark":{"type":"text","align":"right","baseline":"middle","font":"DejaVu Sans","fontWeight":"bold","fontSize":14.5,"color":"#ffffff"},"encoding":{"text":{"field":"label"},"x":{"field":"order","type":"quantitative","scale":{"domain":[0,1],"range":[975,975],"zero":false,"nice":false}},"y":{"field":"order","type":"quantitative","scale":{"domain":[0,1],"range":[358,373.5],"zero":false,"nice":false}}}},
{"data":{"values":[{"order":0,"label":"Mkr4 2.484 55 GHz"},{"order":1,"label":"-47.176 dBm"}]},"mark":{"type":"text","align":"right","baseline":"middle","font":"DejaVu Sans","fontWeight":"bold","fontSize":15.5,"color":"#22e822"},"encoding":{"text":{"field":"label"},"x":{"field":"order","type":"quantitative","scale":{"domain":[0,1],"range":[975.5,975.5],"zero":false,"nice":false}},"y":{"field":"order","type":"quantitative","scale":{"domain":[0,1],"range":[123.5,139.5],"zero":false,"nice":false}}}},

{"data":{"name":"markers"},"transform":[{"fold":["mode","trc","scl","x","y","fn","fw","fv"],"as":["key","value"]},{"lookup":"key","from":{"data":{"name":"columns"},"key":"key","fields":["idx","next"]}}],"mark":{"type":"rect","fill":"#000000","stroke":"#8c8c8c","strokeWidth":1},"encoding":{"x":{"field":"idx","type":"quantitative","scale":{"domain":[0,1,2,3,4,5,6,7,8,9,10],"range":[152,183,221,250,280,472,606,711,817,963,978],"zero":false,"nice":false}},"x2":{"field":"next"},"y":{"field":"mkr","type":"nominal","scale":{"type":"band","domain":["MKR","1","2","3","4","5","6","7","8","9","10","11"],"range":[391,529.5],"padding":0}}}},
{"data":{"name":"markers"},"mark":{"type":"rect","stroke":"#a8a8a8","strokeWidth":1},"encoding":{"fill":{"condition":{"test":"datum.mkr === '4'","value":"#18ee18"},"value":"#d6d6d6"},"x":{"datum":0,"type":"quantitative","scale":{"domain":[0,1,2,3,4,5,6,7,8,9,10],"range":[152,183,221,250,280,472,606,711,817,963,978],"zero":false,"nice":false}},"x2":{"datum":1},"y":{"field":"mkr","type":"nominal","scale":{"type":"band","domain":["MKR","1","2","3","4","5","6","7","8","9","10","11"],"range":[391,529.5],"padding":0}}}},
{"data":{"name":"columns"},"mark":{"type":"rect","fill":"#f3f3f3","stroke":"#b6b6b6","strokeWidth":1},"encoding":{"x":{"field":"idx","type":"quantitative","scale":{"domain":[0,1,2,3,4,5,6,7,8,9,10],"range":[152,183,221,250,280,472,606,711,817,963,978],"zero":false,"nice":false}},"x2":{"field":"next"},"y":{"datum":"MKR","type":"nominal","scale":{"type":"band","domain":["MKR","1","2","3","4","5","6","7","8","9","10","11"],"range":[391,529.5],"padding":0}}}},
{"data":{"name":"columns"},"mark":{"type":"text","align":"center","baseline":"middle","font":"Liberation Sans","fontSize":10,"color":"#5e5090"},"encoding":{"text":{"field":"label"},"x":{"field":"idx","type":"quantitative","scale":{"domain":[0,1,2,3,4,5,6,7,8],"range":[168,202,235.5,265,376,539,658.5,764,890],"zero":false,"nice":false}},"y":{"datum":"MKR","type":"nominal","scale":{"type":"band","domain":["MKR","1","2","3","4","5","6","7","8","9","10","11"],"range":[391,529.5],"padding":0}}}},
{"data":{"name":"markers"},"mark":{"type":"text","align":"right","baseline":"middle","dx":-3.5,"font":"DejaVu Sans","fontWeight":"bold","fontSize":11,"color":"#101010"},"encoding":{"text":{"field":"mkr"},"x":{"datum":1,"type":"quantitative","scale":{"domain":[0,1,2,3,4,5,6,7,8,9,10],"range":[152,183,221,250,280,472,606,711,817,963,978],"zero":false,"nice":false}},"y":{"field":"mkr","type":"nominal","scale":{"type":"band","domain":["MKR","1","2","3","4","5","6","7","8","9","10","11"],"range":[391,529.5],"padding":0}}}},
{"data":{"name":"markers"},"transform":[{"filter":"isValid(datum.mode)"}],"mark":{"type":"text","align":"center","baseline":"middle","font":"DejaVu Sans","fontWeight":"bold","fontSize":10.5,"color":"#ffffff"},"encoding":{"text":{"field":"mode"},"x":{"datum":1,"type":"quantitative","scale":{"domain":[0,1,2,3,4,5,6,7,8],"range":[168,202,235.5,265,376,539,658.5,764,890],"zero":false,"nice":false}},"y":{"field":"mkr","type":"nominal","scale":{"type":"band","domain":["MKR","1","2","3","4","5","6","7","8","9","10","11"],"range":[391,529.5],"padding":0}}}},
{"data":{"name":"markers"},"transform":[{"filter":"isValid(datum.trc)"}],"mark":{"type":"text","align":"center","baseline":"middle","font":"DejaVu Sans","fontWeight":"bold","fontSize":10.5,"color":"#f0f000"},"encoding":{"text":{"field":"trc"},"x":{"datum":2,"type":"quantitative","scale":{"domain":[0,1,2,3,4,5,6,7,8],"range":[168,202,235.5,265,376,539,658.5,764,890],"zero":false,"nice":false}},"y":{"field":"mkr","type":"nominal","scale":{"type":"band","domain":["MKR","1","2","3","4","5","6","7","8","9","10","11"],"range":[391,529.5],"padding":0}}}},
{"data":{"name":"markers"},"transform":[{"filter":"isValid(datum.scl)"}],"mark":{"type":"text","align":"center","baseline":"middle","font":"DejaVu Sans","fontWeight":"bold","fontSize":10.5,"color":"#ffffff"},"encoding":{"text":{"field":"scl"},"x":{"datum":3,"type":"quantitative","scale":{"domain":[0,1,2,3,4,5,6,7,8],"range":[168,202,235.5,265,376,539,658.5,764,890],"zero":false,"nice":false}},"y":{"field":"mkr","type":"nominal","scale":{"type":"band","domain":["MKR","1","2","3","4","5","6","7","8","9","10","11"],"range":[391,529.5],"padding":0}}}},
{"data":{"name":"markers"},"transform":[{"filter":"isValid(datum.x)"}],"mark":{"type":"text","align":"right","baseline":"middle","dx":-4,"font":"DejaVu Sans","fontWeight":"bold","fontSize":10.5,"color":"#ffffff"},"encoding":{"text":{"field":"x"},"x":{"datum":5,"type":"quantitative","scale":{"domain":[0,1,2,3,4,5,6,7,8,9,10],"range":[152,183,221,250,280,472,606,711,817,963,978],"zero":false,"nice":false}},"y":{"field":"mkr","type":"nominal","scale":{"type":"band","domain":["MKR","1","2","3","4","5","6","7","8","9","10","11"],"range":[391,529.5],"padding":0}}}},
{"data":{"name":"markers"},"transform":[{"filter":"isValid(datum.y)"}],"mark":{"type":"text","align":"right","baseline":"middle","dx":-3,"font":"DejaVu Sans","fontWeight":"bold","fontSize":10.5,"color":"#ffffff"},"encoding":{"text":{"field":"y"},"x":{"datum":6,"type":"quantitative","scale":{"domain":[0,1,2,3,4,5,6,7,8,9,10],"range":[152,183,221,250,280,472,606,711,817,963,978],"zero":false,"nice":false}},"y":{"field":"mkr","type":"nominal","scale":{"type":"band","domain":["MKR","1","2","3","4","5","6","7","8","9","10","11"],"range":[391,529.5],"padding":0}}}},
{"data":{"name":"markers"},"transform":[{"filter":"isValid(datum.xd)"}],"mark":{"type":"text","align":"left","baseline":"middle","dx":5,"font":"DejaVu Sans","fontWeight":"bold","fontSize":10.5,"color":"#ffffff"},"encoding":{"text":{"field":"xd"},"x":{"datum":4,"type":"quantitative","scale":{"domain":[0,1,2,3,4,5,6,7,8,9,10],"range":[152,183,221,250,280,472,606,711,817,963,978],"zero":false,"nice":false}},"y":{"field":"mkr","type":"nominal","scale":{"type":"band","domain":["MKR","1","2","3","4","5","6","7","8","9","10","11"],"range":[391,529.5],"padding":0}}}},
{"data":{"name":"markers"},"transform":[{"filter":"isValid(datum.yd)"}],"mark":{"type":"text","align":"left","baseline":"middle","dx":4,"font":"DejaVu Sans","fontWeight":"bold","fontSize":10.5,"color":"#ffffff"},"encoding":{"text":{"field":"yd"},"x":{"datum":5,"type":"quantitative","scale":{"domain":[0,1,2,3,4,5,6,7,8,9,10],"range":[152,183,221,250,280,472,606,711,817,963,978],"zero":false,"nice":false}},"y":{"field":"mkr","type":"nominal","scale":{"type":"band","domain":["MKR","1","2","3","4","5","6","7","8","9","10","11"],"range":[391,529.5],"padding":0}}}},

{"data":{"values":[{"order":0,"label":"MSG"},{"order":1,"label":"STATUS"}]},"mark":{"type":"text","align":"center","baseline":"middle","font":"Liberation Sans","fontWeight":"bold","fontSize":8.5,"color":"#4a4a4a"},"encoding":{"text":{"field":"label"},"x":{"field":"order","type":"quantitative","scale":{"domain":[0,1],"range":[161,800],"zero":false,"nice":false}},"y":{"field":"order","type":"quantitative","scale":{"domain":[0,1],"range":[555,555],"zero":false,"nice":false}}}},

{"data":{"values":[{"menu":"Frequency"}]},"mark":{"type":"text","align":"center","baseline":"middle","font":"DejaVu Sans","fontSize":14,"color":"#f2f6ff"},"encoding":{"text":{"field":"menu"},"x":{"field":"menu","type":"nominal","scale":{"type":"band","range":[983,1137],"padding":0}},"y":{"field":"menu","type":"nominal","scale":{"type":"band","range":[62,87],"padding":0}}}},
{"data":{"name":"softkeys"},"transform":[{"filter":"datum.key !== 'Center Freq'"}],"mark":{"type":"rect","fill":{"gradient":"linear","x1":0,"y1":0,"x2":0,"y2":1,"stops":[{"offset":0,"color":"#c6e8f8"},{"offset":0.07,"color":"#8ecdea"},{"offset":0.6,"color":"#7cc2e3"},{"offset":0.84,"color":"#6ab4db"},{"offset":1,"color":"#3d85b8"}]}},"encoding":{"x":{"datum":"Frequency","type":"nominal","scale":{"type":"band","range":[987,1134],"padding":0}},"y":{"field":"key","type":"nominal","scale":{"type":"band","domain":["Auto Tune","Center Freq","Start Freq","Stop Freq","CF Step","Freq Offset","Scale Type"],"range":[88,529],"paddingInner":0.145,"paddingOuter":0}}}},
{"data":{"name":"softkeys"},"transform":[{"filter":"datum.key === 'Center Freq'"}],"mark":{"type":"rect","fill":{"gradient":"linear","x1":0,"y1":0,"x2":0,"y2":1,"stops":[{"offset":0,"color":"#eef8fd"},{"offset":0.07,"color":"#d2ecf9"},{"offset":0.6,"color":"#c5e5f6"},{"offset":0.84,"color":"#acd7ef"},{"offset":1,"color":"#5b9cc6"}]}},"encoding":{"x":{"datum":"Frequency","type":"nominal","scale":{"type":"band","range":[987,1134],"padding":0}},"y":{"field":"key","type":"nominal","scale":{"type":"band","domain":["Auto Tune","Center Freq","Start Freq","Stop Freq","CF Step","Freq Offset","Scale Type"],"range":[88,529],"paddingInner":0.145,"paddingOuter":0}}}},
{"data":{"name":"softkeys"},"transform":[{"filter":"isValid(datum.value) && !isValid(datum.left)"}],"mark":{"type":"text","align":"right","baseline":"middle","dy":-7.5,"font":"DejaVu Sans","fontWeight":"bold","fontSize":15,"color":"#0a0a0a"},"encoding":{"text":{"field":"key"},"x":{"datum":"right","type":"nominal","scale":{"type":"point","domain":["left","right"],"range":[990,1132],"padding":0}},"y":{"field":"key","type":"nominal","scale":{"type":"band","domain":["Auto Tune","Center Freq","Start Freq","Stop Freq","CF Step","Freq Offset","Scale Type"],"range":[88,529],"paddingInner":0.145,"paddingOuter":0}}}},
{"data":{"name":"softkeys"},"transform":[{"filter":"!isValid(datum.value) && !isValid(datum.left)"}],"mark":{"type":"text","align":"right","baseline":"middle","dy":1,"font":"DejaVu Sans","fontWeight":"bold","fontSize":15,"color":"#0a0a0a"},"encoding":{"text":{"field":"key"},"x":{"datum":"right","type":"nominal","scale":{"type":"point","domain":["left","right"],"range":[990,1132],"padding":0}},"y":{"field":"key","type":"nominal","scale":{"type":"band","domain":["Auto Tune","Center Freq","Start Freq","Stop Freq","CF Step","Freq Offset","Scale Type"],"range":[88,529],"paddingInner":0.145,"paddingOuter":0}}}},
{"data":{"name":"softkeys"},"transform":[{"filter":"isValid(datum.value) && isValid(datum.left)"}],"mark":{"type":"text","align":"right","baseline":"middle","dy":-13.5,"font":"DejaVu Sans","fontWeight":"bold","fontSize":14,"color":"#0a0a0a"},"encoding":{"text":{"field":"key"},"x":{"datum":"right","type":"nominal","scale":{"type":"point","domain":["left","right"],"range":[990,1132],"padding":0}},"y":{"field":"key","type":"nominal","scale":{"type":"band","domain":["Auto Tune","Center Freq","Start Freq","Stop Freq","CF Step","Freq Offset","Scale Type"],"range":[88,529],"paddingInner":0.145,"paddingOuter":0}}}},
{"data":{"name":"softkeys"},"transform":[{"filter":"!isValid(datum.value) && isValid(datum.left)"}],"mark":{"type":"text","align":"right","baseline":"middle","dy":-12.5,"font":"DejaVu Sans","fontWeight":"bold","fontSize":15,"color":"#0a0a0a"},"encoding":{"text":{"field":"key"},"x":{"datum":"right","type":"nominal","scale":{"type":"point","domain":["left","right"],"range":[990,1132],"padding":0}},"y":{"field":"key","type":"nominal","scale":{"type":"band","domain":["Auto Tune","Center Freq","Start Freq","Stop Freq","CF Step","Freq Offset","Scale Type"],"range":[88,529],"paddingInner":0.145,"paddingOuter":0}}}},
{"data":{"name":"softkeys"},"transform":[{"filter":"isValid(datum.value) && !isValid(datum.left)"}],"mark":{"type":"text","align":"right","baseline":"middle","dy":9.5,"font":"DejaVu Sans","fontSize":13.5,"color":"#0a0a0a"},"encoding":{"text":{"field":"value"},"x":{"datum":"right","type":"nominal","scale":{"type":"point","domain":["left","right"],"range":[990,1132],"padding":0}},"y":{"field":"key","type":"nominal","scale":{"type":"band","domain":["Auto Tune","Center Freq","Start Freq","Stop Freq","CF Step","Freq Offset","Scale Type"],"range":[88,529],"paddingInner":0.145,"paddingOuter":0}}}},
{"data":{"name":"softkeys"},"transform":[{"filter":"isValid(datum.value) && isValid(datum.left)"}],"mark":{"type":"text","align":"right","baseline":"middle","dy":0.5,"font":"DejaVu Sans","fontSize":12.5,"color":"#0a0a0a"},"encoding":{"text":{"field":"value"},"x":{"datum":"right","type":"nominal","scale":{"type":"point","domain":["left","right"],"range":[990,1132],"padding":0}},"y":{"field":"key","type":"nominal","scale":{"type":"band","domain":["Auto Tune","Center Freq","Start Freq","Stop Freq","CF Step","Freq Offset","Scale Type"],"range":[88,529],"paddingInner":0.145,"paddingOuter":0}}}},
{"data":{"name":"softkeys"},"transform":[{"filter":"isValid(datum.left)"}],"mark":{"type":"text","align":"left","baseline":"middle","dy":14.5,"font":"DejaVu Sans","fontSize":12.5,"color":"#0a0a0a"},"encoding":{"text":{"field":"left"},"x":{"datum":"left","type":"nominal","scale":{"type":"point","domain":["left","right"],"range":[990,1132],"padding":0}},"y":{"field":"key","type":"nominal","scale":{"type":"band","domain":["Auto Tune","Center Freq","Start Freq","Stop Freq","CF Step","Freq Offset","Scale Type"],"range":[88,529],"paddingInner":0.145,"paddingOuter":0}}}},
{"data":{"name":"softkeys"},"transform":[{"filter":"isValid(datum.right)"}],"mark":{"type":"text","align":"right","baseline":"middle","dy":14.5,"font":"DejaVu Sans","fontSize":12.5,"color":"#0a0a0a"},"encoding":{"text":{"field":"right"},"x":{"datum":"right","type":"nominal","scale":{"type":"point","domain":["left","right"],"range":[990,1132],"padding":0}},"y":{"field":"key","type":"nominal","scale":{"type":"band","domain":["Auto Tune","Center Freq","Start Freq","Stop Freq","CF Step","Freq Offset","Scale Type"],"range":[88,529],"paddingInner":0.145,"paddingOuter":0}}}}
]
}
